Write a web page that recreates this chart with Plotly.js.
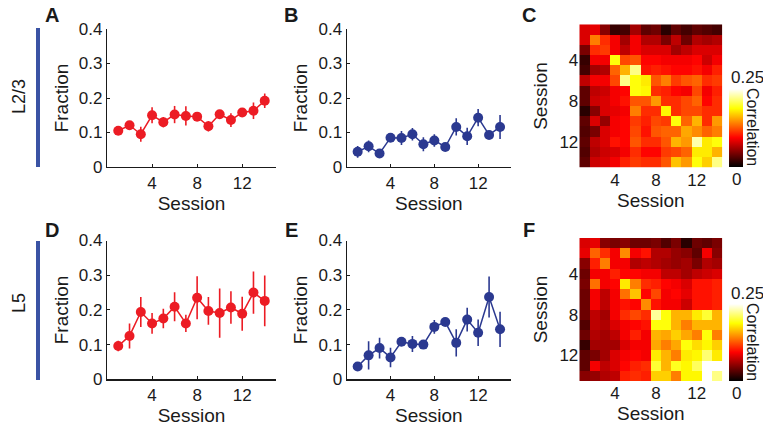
<!DOCTYPE html>
<html><head><meta charset="utf-8">
<script src="https://cdn.plot.ly/plotly-3.0.1.min.js"></script>
<style>html,body{margin:0;padding:0;background:#fff}#g{width:763px;height:428px}</style>
</head><body><div id="g"></div>
<script>
const sessions = [1,2,3,4,5,6,7,8,9,10,11,12,13,14];
const fracA = [0.105,0.121,0.095,0.150,0.130,0.152,0.148,0.146,0.118,0.153,0.136,0.158,0.163,0.192];
const errA  = [0.010,0.012,0.022,0.023,0.015,0.025,0.028,0.013,0.015,0.012,0.020,0.012,0.024,0.021];
const fracB = [0.044,0.060,0.039,0.085,0.084,0.095,0.066,0.077,0.058,0.116,0.089,0.143,0.093,0.116];
const errB  = [0.017,0.017,0.010,0.010,0.020,0.018,0.020,0.018,0.010,0.025,0.025,0.025,0.010,0.035];
const fracD = [0.096,0.125,0.194,0.161,0.175,0.209,0.161,0.235,0.197,0.191,0.207,0.189,0.250,0.226];
const errD  = [0.015,0.036,0.043,0.030,0.028,0.042,0.025,0.062,0.040,0.071,0.047,0.049,0.061,0.073];
const fracE = [0.037,0.069,0.090,0.063,0.108,0.102,0.100,0.151,0.165,0.105,0.172,0.134,0.237,0.144];
const errE  = [0.005,0.041,0.030,0.028,0.010,0.023,0.013,0.020,0.010,0.039,0.034,0.038,0.059,0.051];
const yTicks = [0,0.1,0.2,0.3,0.4];
const yTickText = ['0','0.1','0.2','0.3','0.4'];
const xTicks = [4,8,12];
const corrC = [
 [0.080,0.085,0.050,0.020,0.025,0.060,0.035,0.040,0.015,0.035,0.025,0.035,0.030,0.025],
 [0.080,0.140,0.110,0.090,0.060,0.090,0.065,0.065,0.045,0.070,0.040,0.065,0.060,0.065],
 [0.045,0.110,0.115,0.090,0.070,0.090,0.080,0.080,0.080,0.060,0.070,0.080,0.080,0.080],
 [0.020,0.090,0.090,0.190,0.120,0.125,0.095,0.095,0.090,0.090,0.090,0.095,0.075,0.090],
 [0.025,0.060,0.065,0.130,0.160,0.220,0.100,0.105,0.100,0.095,0.095,0.100,0.090,0.105],
 [0.070,0.090,0.090,0.120,0.220,0.190,0.180,0.125,0.140,0.115,0.125,0.130,0.110,0.115],
 [0.035,0.070,0.075,0.090,0.095,0.190,0.185,0.110,0.105,0.095,0.090,0.120,0.090,0.105],
 [0.035,0.075,0.080,0.090,0.100,0.125,0.125,0.150,0.110,0.110,0.120,0.130,0.095,0.110],
 [0.015,0.050,0.080,0.085,0.090,0.140,0.110,0.110,0.185,0.110,0.120,0.120,0.110,0.110],
 [0.035,0.080,0.055,0.090,0.095,0.115,0.105,0.120,0.115,0.190,0.130,0.160,0.110,0.150],
 [0.030,0.045,0.080,0.090,0.095,0.120,0.100,0.125,0.130,0.130,0.155,0.145,0.130,0.140],
 [0.035,0.070,0.080,0.100,0.095,0.125,0.110,0.110,0.125,0.160,0.150,0.230,0.180,0.190],
 [0.030,0.065,0.075,0.080,0.090,0.110,0.095,0.095,0.115,0.120,0.130,0.180,0.180,0.160],
 [0.035,0.075,0.080,0.090,0.105,0.115,0.110,0.110,0.125,0.165,0.150,0.190,0.170,0.220]
];
const corrF = [
 [0.080,0.085,0.050,0.045,0.050,0.040,0.040,0.045,0.030,0.045,0.015,0.040,0.035,0.045],
 [0.085,0.130,0.110,0.090,0.145,0.090,0.100,0.065,0.065,0.055,0.050,0.035,0.090,0.050],
 [0.050,0.105,0.140,0.090,0.090,0.065,0.070,0.065,0.060,0.055,0.060,0.045,0.065,0.060],
 [0.040,0.090,0.090,0.105,0.095,0.095,0.090,0.090,0.070,0.070,0.060,0.070,0.075,0.080],
 [0.045,0.135,0.090,0.095,0.180,0.140,0.110,0.105,0.095,0.090,0.080,0.100,0.100,0.105],
 [0.040,0.090,0.070,0.090,0.135,0.165,0.095,0.120,0.090,0.095,0.085,0.100,0.100,0.105],
 [0.040,0.090,0.070,0.090,0.100,0.095,0.145,0.100,0.090,0.090,0.075,0.100,0.100,0.105],
 [0.040,0.070,0.060,0.090,0.110,0.120,0.110,0.225,0.190,0.160,0.160,0.180,0.200,0.160],
 [0.030,0.070,0.065,0.080,0.090,0.095,0.100,0.190,0.190,0.160,0.140,0.160,0.160,0.160],
 [0.040,0.065,0.060,0.070,0.090,0.105,0.090,0.160,0.155,0.170,0.155,0.140,0.190,0.140],
 [0.020,0.060,0.060,0.060,0.080,0.090,0.090,0.155,0.140,0.155,0.190,0.175,0.185,0.170],
 [0.035,0.045,0.060,0.080,0.090,0.095,0.090,0.180,0.160,0.140,0.180,0.185,0.215,0.180],
 [0.035,0.090,0.070,0.080,0.095,0.105,0.110,0.200,0.160,0.195,0.185,0.210,0.260,0.260],
 [0.050,0.055,0.065,0.070,0.105,0.110,0.105,0.170,0.170,0.140,0.185,0.185,0.260,0.220]
];

const RED = '#ec1c24', BLUE = '#2b3990', INK = '#1a1a1a';
const FONT = 'Liberation Sans, Arial, sans-serif';
const hot = [[0,'#000000'],[0.375,'#ff0000'],[0.75,'#ffff00'],[1,'#ffffff']];
const TICK = 17, TITLE = 19;

function lineTrace(y, err, color, xa, ya){
  return {x: sessions, y: y, xaxis: xa, yaxis: ya, type: 'scatter', mode: 'lines+markers',
    line: {color: color, width: 1.5}, marker: {color: color, size: 10},
    error_y: {type: 'data', array: err, visible: true, thickness: 1.6, width: 0, color: color},
    showlegend: false, hoverinfo: 'skip'};
}
function heat(z, xa, ya, cbY, cbLen){
  return {z: z, x: sessions, y: sessions, type: 'heatmap', xaxis: xa, yaxis: ya,
    colorscale: hot, zmin: 0, zmax: 0.25, zauto: false,
    colorbar: {x: 729/763, xanchor: 'left', y: cbY, yanchor: 'bottom', len: cbLen, lenmode: 'pixels',
      thickness: 14, thicknessmode: 'pixels', xpad: 0, ypad: 0, outlinewidth: 0, showticklabels: false, ticks: ''},
    hoverinfo: 'skip'};
}
const data = [
  lineTrace(fracA, errA, RED, 'x', 'y'),
  lineTrace(fracB, errB, BLUE, 'x2', 'y2'),
  heat(corrC, 'x3', 'y3', 1-167/428, 78),
  lineTrace(fracD, errD, RED, 'x4', 'y4'),
  lineTrace(fracE, errE, BLUE, 'x5', 'y5'),
  heat(corrF, 'x6', 'y6', 1-381/428, 77)
];

function lx(dom, anchor){
  return {domain: dom, anchor: anchor, range: [0,15], tickvals: xTicks, ticks: 'inside', ticklen: 3,
    tickcolor: INK, showline: true, linecolor: INK, linewidth: 1.2, showgrid: false, zeroline: false,
    tickfont: {family: FONT, size: TICK, color: INK},
    title: {text: 'Session', font: {family: FONT, size: TITLE, color: INK}, standoff: 0}};
}
function ly(dom, anchor){
  return {domain: dom, anchor: anchor, range: [0,0.4], tickvals: yTicks, ticktext: yTickText, ticks: 'inside', ticklen: 3,
    tickcolor: INK, showline: true, linecolor: INK, linewidth: 1.2, showgrid: false, zeroline: false,
    tickfont: {family: FONT, size: TICK, color: INK},
    title: {text: 'Fraction', font: {family: FONT, size: TITLE, color: INK}, standoff: 5}};
}
function hx(dom, anchor){
  return {domain: dom, anchor: anchor, range: [0.5,14.5], tickvals: xTicks, ticks: '', showline: false,
    showgrid: false, zeroline: false, tickfont: {family: FONT, size: TICK, color: INK},
    title: {text: 'Session', font: {family: FONT, size: TITLE, color: INK}, standoff: 0}};
}
function hy(dom, anchor){
  return {domain: dom, anchor: anchor, range: [14.5,0.5], tickvals: xTicks, ticks: '', showline: false,
    showgrid: false, zeroline: false, tickfont: {family: FONT, size: TICK, color: INK},
    title: {text: 'Session', font: {family: FONT, size: TITLE, color: INK}, standoff: 6}};
}
const xA = [107/763, 276/763], xB = [346.7/763, 511/763], xC = [579.3/763, 722.3/763];
const yTop = [1-167/428, 1-29/428], yBot = [1-379.3/428, 1-240.5/428];
const yC = [1-167.7/428, 1-24.3/428], yF = [1-381/428, 1-238/428];

function ann(text, px, py, opts){
  return Object.assign({text: text, x: px/763, y: 1-py/428, xref: 'paper', yref: 'paper', showarrow: false,
    font: {family: FONT, size: TICK, color: INK}, xanchor: 'center', yanchor: 'middle'}, opts||{});
}
const letterFont = {family: FONT, size: 20, color: INK};
const corrFont = {family: FONT, size: 16, color: INK};
const annotations = [
  ann('<b>A</b>', 52, 15, {font: letterFont}),
  ann('<b>B</b>', 291, 15, {font: letterFont}),
  ann('<b>C</b>', 529, 15, {font: letterFont}),
  ann('<b>D</b>', 52, 230, {font: letterFont}),
  ann('<b>E</b>', 291, 230, {font: letterFont}),
  ann('<b>F</b>', 529, 230, {font: letterFont}),
  ann('L2/3', 19, 97, {textangle: -90, font: {family: FONT, size: 18, color: INK}}),
  ann('L5', 19, 303, {textangle: -90, font: {family: FONT, size: 18, color: INK}}),
  ann('0.25', 729, 78, {xanchor: 'left'}),
  ann('0', 736, 180),
  ann('Correlation', 753, 127, {textangle: 90, font: corrFont}),
  ann('0.25', 729, 293, {xanchor: 'left'}),
  ann('0', 736, 393),
  ann('Correlation', 753, 342, {textangle: 90, font: corrFont})
];
const shapes = [
  {type: 'line', xref: 'paper', yref: 'paper', x0: 38/763, x1: 38/763, y0: 1-28/428, y1: 1-167/428, line: {color: '#3a53a4', width: 4}},
  {type: 'line', xref: 'paper', yref: 'paper', x0: 38/763, x1: 38/763, y0: 1-241/428, y1: 1-380/428, line: {color: '#3a53a4', width: 4}}
];
const layout = {
  width: 763, height: 428, margin: {l: 0, r: 0, t: 0, b: 0}, paper_bgcolor: '#fff', plot_bgcolor: 'rgba(0,0,0,0)',
  showlegend: false, font: {family: FONT, color: INK},
  xaxis: lx(xA, 'y'), yaxis: ly(yTop, 'x'),
  xaxis2: lx(xB, 'y2'), yaxis2: ly(yTop, 'x2'),
  xaxis3: hx(xC, 'y3'), yaxis3: hy(yC, 'x3'),
  xaxis4: lx(xA, 'y4'), yaxis4: ly(yBot, 'x4'),
  xaxis5: lx(xB, 'y5'), yaxis5: ly(yBot, 'x5'),
  xaxis6: hx(xC, 'y6'), yaxis6: hy(yF, 'x6'),
  annotations: annotations, shapes: shapes
};
Plotly.newPlot('g', data, layout, {displayModeBar: false, staticPlot: true});
</script></body></html>
